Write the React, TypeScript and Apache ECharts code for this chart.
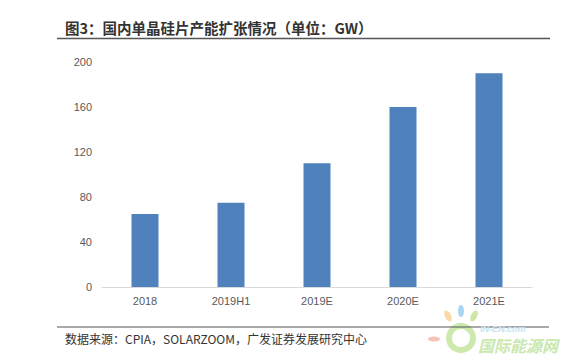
import React, { useEffect, useRef } from "react";
import * as echarts from "echarts";

const categories = ["2018", "2019H1", "2019E", "2020E", "2021E"];
const capacity = [65, 75, 110, 160, 190];
const yTicks = [0, 40, 80, 120, 160, 200];
const titleText = "图3：国内单晶硅片产能扩张情况（单位：GW）";
const sourceText = "数据来源：CPIA，SOLARZOOM，广发证券发展研究中心";

export default function App() {
  const ref = useRef<HTMLDivElement>(null);
  useEffect(() => {
    const chart = echarts.init(ref.current!, null, { renderer: "svg" });
    chart.setOption({
      animation: false,
      backgroundColor: "#ffffff",
      grid: { left: 102, right: 39, top: 62, bottom: 71 },
      xAxis: {
        type: "category",
        data: categories,
        axisLine: { lineStyle: { color: "#d9d9d9", width: 1 } },
        axisTick: { show: false },
        axisLabel: { color: "#595959", fontSize: 11, fontFamily: "Arial, Liberation Sans", margin: 8 },
      },
      yAxis: {
        type: "value",
        min: yTicks[0],
        max: yTicks[yTicks.length - 1],
        interval: 40,
        splitLine: { show: false },
        axisLine: { show: false },
        axisTick: { show: false },
        axisLabel: { color: "#595959", fontSize: 11, fontFamily: "Arial, Liberation Sans", margin: 10 },
      },
      series: [
        {
          type: "bar",
          data: capacity,
          barWidth: 27,
          itemStyle: { color: "#4f81bd" },
        },
      ],
      graphic: [
        {
          type: "text",
          left: 65,
          top: 20,
          style: {
            text: titleText,
            font: "bold 14.5px 'Noto Sans CJK SC', sans-serif",
            fill: "#333333",
          },
        },
        {
          type: "line",
          shape: { x1: 57, y1: 38.5, x2: 550, y2: 38.5 },
          style: { stroke: "#555555", lineWidth: 1.5 },
        },
        {
          type: "group",
          left: 428,
          top: 305,
          children: [
            { type: "ellipse", shape: { cx: 34, cy: 8, rx: 3, ry: 6 }, style: { fill: "#a9d4f2" } },
            { type: "ellipse", shape: { cx: 21, cy: 13, rx: 3, ry: 6 }, rotation: 0.5, originX: 21, originY: 13, style: { fill: "#f8d9a8" } },
            { type: "ellipse", shape: { cx: 47, cy: 13, rx: 3, ry: 6 }, rotation: -0.5, originX: 47, originY: 13, style: { fill: "#cfe7a3" } },
            { type: "ellipse", shape: { cx: 7, cy: 36, rx: 6, ry: 2.5 }, style: { fill: "#f6c3b8" } },
            { type: "circle", shape: { cx: 34, cy: 35, r: 12 }, style: { fill: "none", stroke: "#cde9ae", lineWidth: 6 } },
          ],
        },
        {
          type: "line",
          shape: { x1: 57, y1: 327, x2: 549, y2: 327 },
          style: { stroke: "#555555", lineWidth: 1.2 },
        },
        {
          type: "text",
          left: 65,
          top: 332,
          style: {
            text: sourceText,
            font: "12px 'Noto Sans CJK SC', sans-serif",
            fill: "#333333",
          },
        },
        {
          type: "text",
          left: 480,
          top: 324,
          style: { text: "IN-EN.com", font: "bold italic 9px Arial, sans-serif", fill: "#c4e4f5" },
        },
        {
          type: "text",
          left: 478,
          top: 337,
          style: { text: "国际能源网", font: "bold italic 16px 'Noto Sans CJK SC', sans-serif", fill: "#c9e8b0" },
        },
      ],
    });
    return () => chart.dispose();
  }, []);
  return <div ref={ref} style={{ width: 571, height: 358, position: "absolute", left: 0, top: 0 }} />;
}
